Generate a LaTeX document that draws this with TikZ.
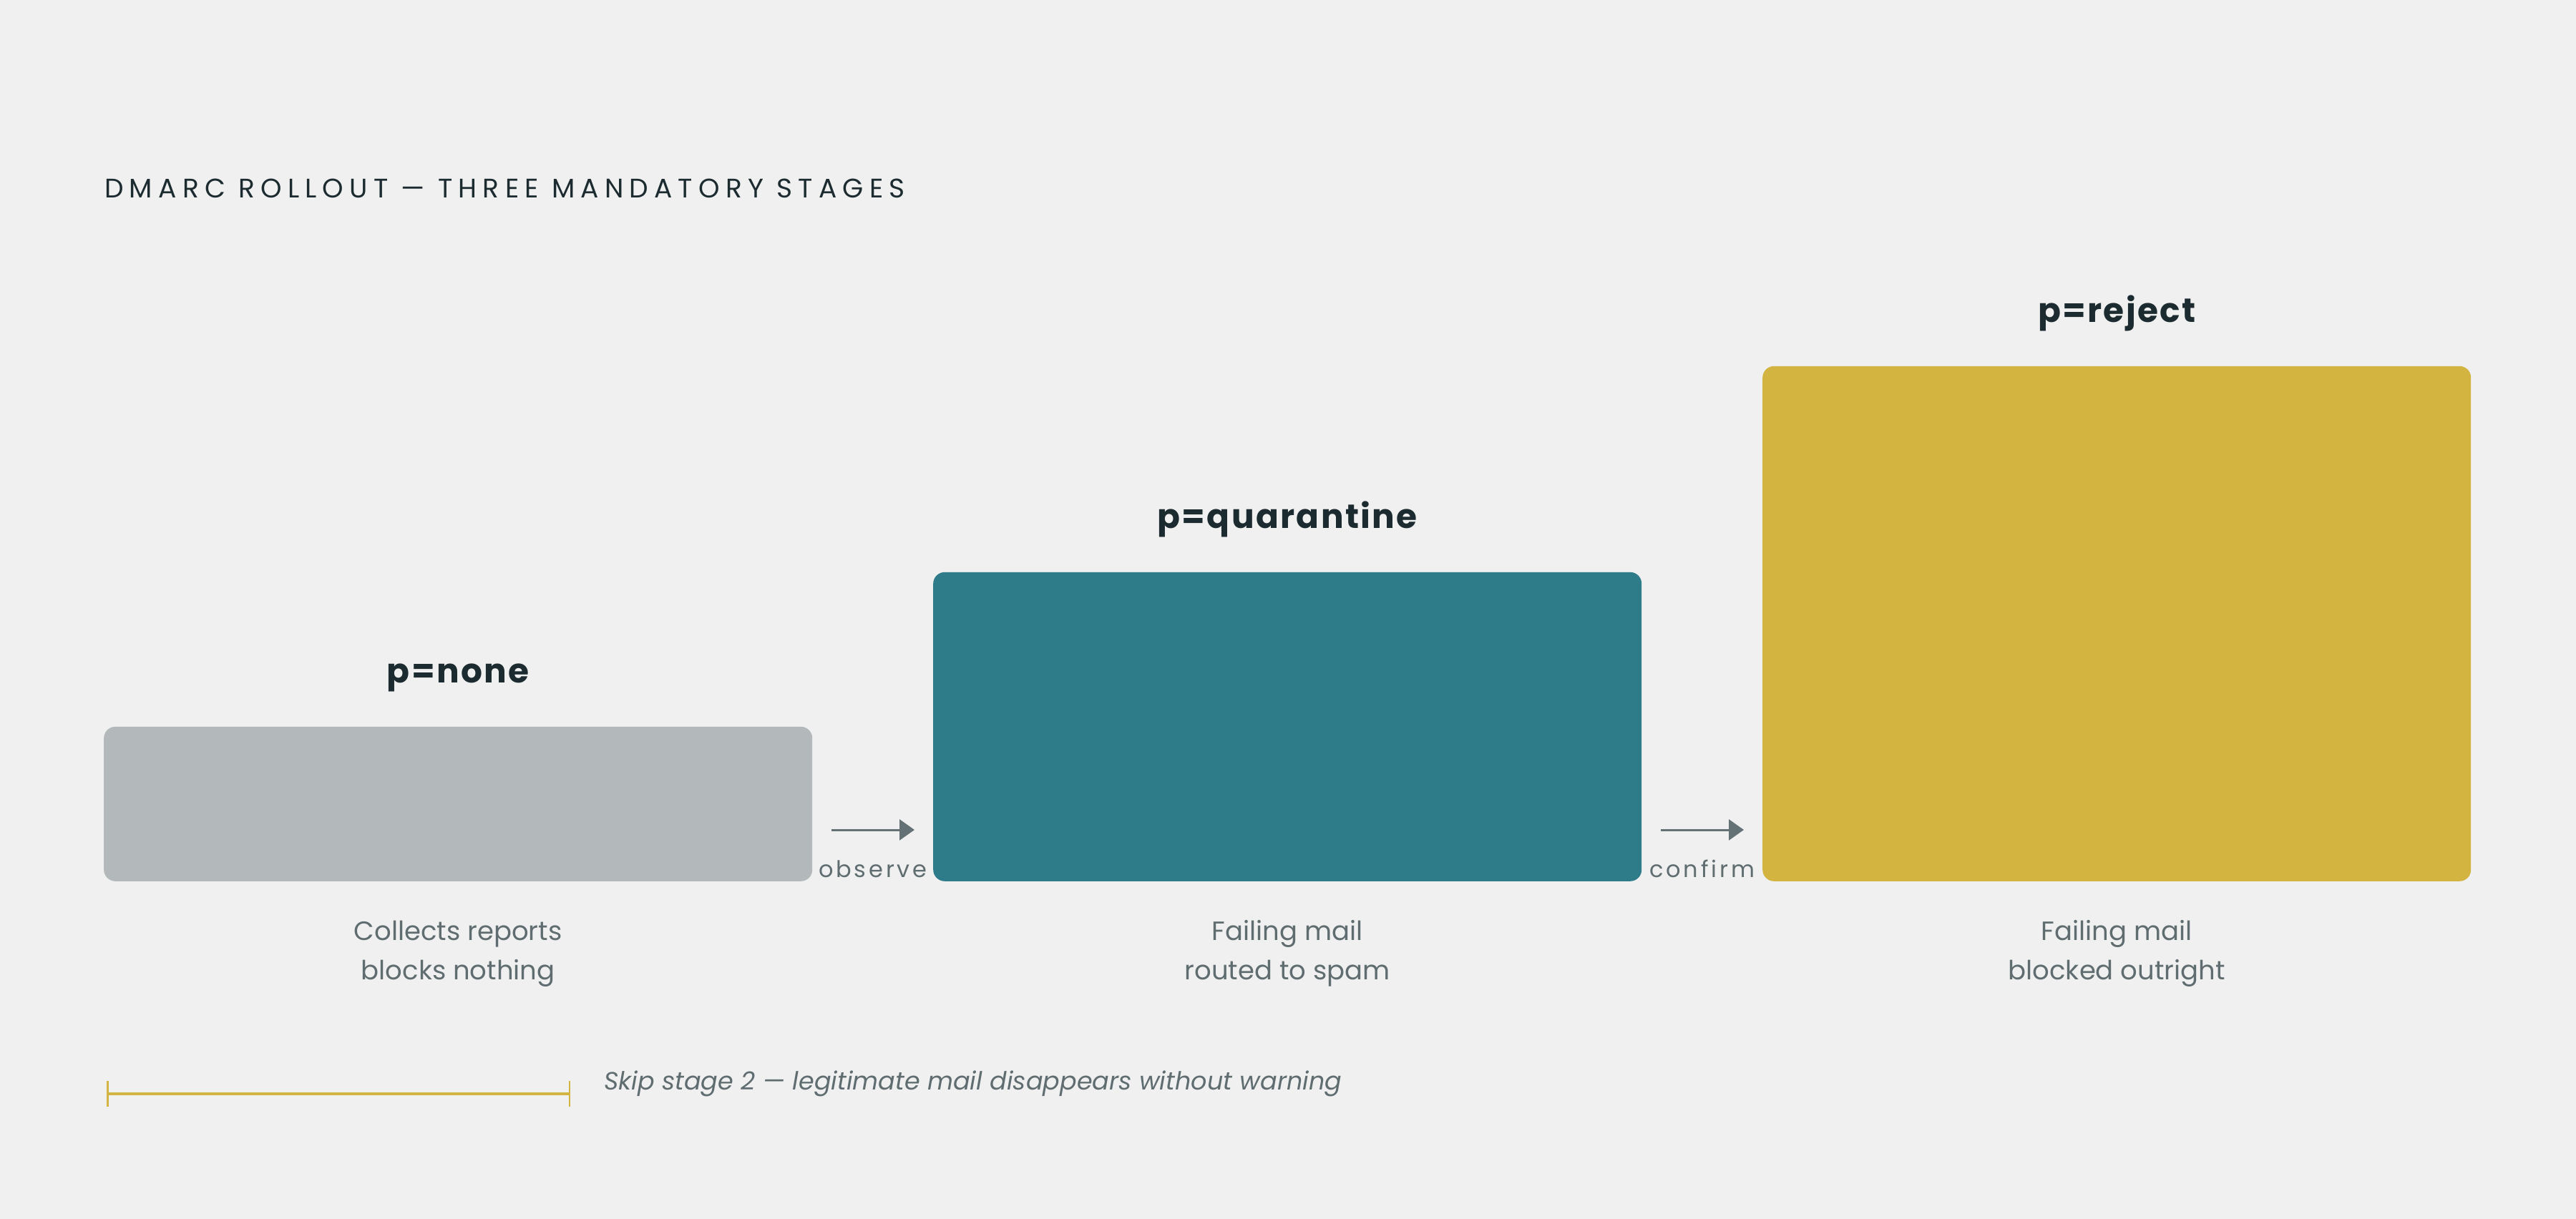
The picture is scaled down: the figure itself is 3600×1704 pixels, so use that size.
\documentclass[tikz,border=0pt]{standalone}
\usepackage{fontspec}
\setmainfont{Poppins}
\newfontfamily\titlefont[LetterSpace=22]{Poppins}
\newfontfamily\labelfont[LetterSpace=5]{Poppins}
\newfontfamily\arrfont[LetterSpace=12]{Poppins}
\usetikzlibrary{arrows.meta,calc}
\definecolor{bgc}{HTML}{F0F0F0}
\definecolor{graybox}{HTML}{B3B8BA}
\definecolor{tealbox}{HTML}{2E7B8A}
\definecolor{yellowbox}{HTML}{D4B441}
\definecolor{darktxt}{HTML}{1B2B30}
\definecolor{midtxt}{HTML}{5F6C70}
\definecolor{arrowc}{HTML}{647275}
\tikzset{
  stagebox/.style={rounded corners=16pt, draw=none, minimum width=990pt, anchor=south west, inner sep=0pt},
  stagelabel/.style={anchor=base, inner sep=0pt, text=darktxt, font=\labelfont\bfseries\fontsize{47}{50}\selectfont},
  desc/.style={anchor=base, inner sep=0pt, align=center, text=midtxt, font=\fontsize{37}{55}\selectfont},
  arrlabel/.style={anchor=base, inner sep=0pt, text=midtxt, font=\arrfont\fontsize{32}{36}\selectfont},
  flow/.style={draw=arrowc, line width=3pt, -{Triangle[length=21pt,width=29pt]}},
}
\begin{document}
\begin{tikzpicture}[x=1pt,y=-1pt]
\fill[bgc] (0,0) rectangle (3600,1704);
\useasboundingbox (0,0) rectangle (3600,1704);

\node[anchor=base west, inner sep=0pt, text=darktxt, font=\titlefont\fontsize{37.5}{40}\selectfont] (title) at (146,277) {DMARC ROLLOUT — THREE MANDATORY STAGES};

\node[stagebox, fill=graybox, minimum height=216pt] (b1) at (145,1232) {};
\node[stagebox, fill=tealbox, minimum height=432pt] (b2) at (1304,1232) {};
\node[stagebox, fill=yellowbox, minimum height=720pt] (b3) at (2463,1232) {};

\node[stagelabel] (l1) at ($(b1.north)+(0,-61)$) {p=none};
\node[stagelabel] (l2) at ($(b2.north)+(0,-61)$) {p=quarantine};
\node[stagelabel] (l3) at ($(b3.north)+(0,-61)$) {p=reject};

\draw[flow] ($(b1.south east)+(27,-72)$) -- ($(b2.south west)+(-26,-72)$);
\draw[flow] ($(b2.south east)+(27,-72)$) -- ($(b3.south west)+(-26,-72)$);
\node[arrlabel] (o1) at ($(b1.south east)!0.5!(b2.south west)+(0,-6)$) {observe};
\node[arrlabel] (o2) at ($(b2.south east)!0.5!(b3.south west)+(0,-6)$) {confirm};

\node[desc] (d1) at ($(b1.south)+(0,137)$) {Collects reports\\blocks nothing};
\node[desc] (d2) at ($(b2.south)+(0,137)$) {Failing mail\\routed to spam};
\node[desc] (d3) at ($(b3.south)+(0,137)$) {Failing mail\\blocked outright};

\coordinate (s1) at (149,1529);
\coordinate (s2) at (797,1529);
\draw[yellowbox, line width=4pt, {Bar[width=36pt,line width=2.5pt]}-{Bar[width=36pt,line width=2.5pt]}] (s1) -- (s2);
\node[anchor=base west, inner sep=0pt, text=midtxt, font=\itshape\fontsize{35}{40}\selectfont] (skip) at (844,1523) {Skip stage 2 — legitimate mail disappears without warning};
\end{tikzpicture}
\end{document}
